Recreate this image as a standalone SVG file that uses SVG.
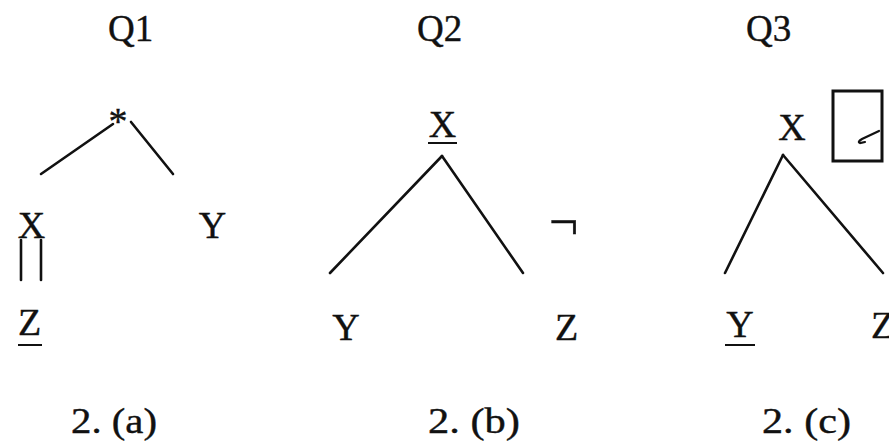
<svg xmlns="http://www.w3.org/2000/svg" width="889" height="446" viewBox="0 0 889 446">
<style>
text{fill:#111;stroke:#111;stroke-width:0.4;}
.t{font-size:37px;}
.n{font-size:38px;text-anchor:middle;}
.e{stroke:#111;stroke-width:2.6;fill:none;stroke-linecap:round;}
.u{stroke:#111;stroke-width:2;}
</style>
<rect width="889" height="446" fill="#fff"/>
<g font-family="'Liberation Serif', 'Times New Roman', serif">
<g id="titles">
<text class="t" x="108" y="41">Q1</text>
<text class="t" x="417" y="41">Q2</text>
<text class="t" x="746" y="41">Q3</text>
</g>
<g id="captions" font-size="36">
<text x="71" y="433" textLength="86" lengthAdjust="spacingAndGlyphs">2. (a)</text>
<text x="428" y="433" textLength="92" lengthAdjust="spacingAndGlyphs">2. (b)</text>
<text x="762" y="433" textLength="89" lengthAdjust="spacingAndGlyphs">2. (c)</text>
</g>
<g id="connectors">
<line class="e" x1="41" y1="174" x2="113" y2="124"/>
<line class="e" x1="131" y1="122" x2="173" y2="174"/>
<line class="e" x1="21" y1="240" x2="21" y2="280"/>
<line class="e" x1="41" y1="240" x2="41" y2="280"/>
<line class="e" x1="330" y1="273" x2="442" y2="156"/>
<line class="e" x1="442" y1="156" x2="523" y2="273"/>
<line class="e" x1="725" y1="273" x2="783" y2="155"/>
<line class="e" x1="783" y1="155" x2="883" y2="273"/>
</g>
<g id="q1-root"><text class="n" x="118" y="134">*</text></g>
<g id="q1-X"><text class="n" x="31.5" y="238">X</text></g>
<g id="q1-Y"><text class="n" x="212.5" y="238">Y</text></g>
<g id="q1-Z"><text class="n" x="29.5" y="335">Z</text><line class="u" x1="18" y1="345" x2="42" y2="345"/></g>
<g id="q2-X"><text class="n" x="442.5" y="137">X</text><line class="u" x1="428" y1="143" x2="457" y2="143"/></g>
<g id="q2-neg"><text x="549" y="239" font-size="52">¬</text></g>
<g id="q2-Y"><text class="n" x="346" y="340">Y</text></g>
<g id="q2-Z"><text class="n" x="566.5" y="340">Z</text></g>
<g id="q3-X"><text class="n" x="792" y="140">X</text></g>
<g id="q3-box"><rect x="833" y="91" width="49" height="70" fill="none" stroke="#111" stroke-width="3"/><path d="M879 131 L862 139 Q857 142 860 143 L865 142" fill="none" stroke="#111" stroke-width="2.2" stroke-linecap="round"/></g>
<g id="q3-Y"><text class="n" x="740" y="337">Y</text><line class="u" x1="725" y1="345" x2="755" y2="345"/></g>
<g id="q3-Z"><text x="871" y="338" font-size="38">Z</text></g>
</g>
</svg>
